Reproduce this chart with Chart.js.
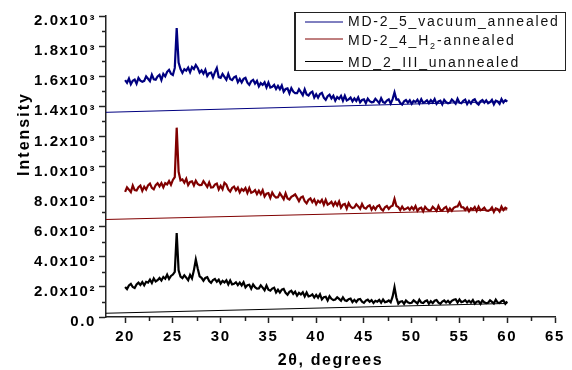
<!DOCTYPE html>
<html><head><meta charset="utf-8">
<script src="https://cdn.jsdelivr.net/npm/chart.js@4.4.1/dist/chart.umd.min.js"></script>
<style>html,body{margin:0;padding:0;background:#fff;overflow:hidden}#wrap{width:572px;height:370px;position:relative}</style>
</head><body><div id="wrap"><canvas id="c" width="572" height="370"></canvas></div>
<script>
// 2-theta sampling grid: 20.0 .. 60.0 in 0.2 degree steps
const thetaStart = 20, thetaStep = 0.2;

const vacuumAnnealed = [
1574,1556,1585,1547,1570,1578,1550,1588,1570,1563,
1569,1599,1583,1567,1610,1580,1577,1598,1609,1574,
1616,1599,1629,1642,1616,1608,1655,1920,1690,1648,
1622,1647,1637,1657,1626,1661,1648,1675,1655,1624,
1639,1617,1643,1601,1620,1624,1592,1627,1655,1594,
1589,1615,1596,1576,1615,1581,1574,1592,1599,1560,
1581,1558,1582,1589,1557,1543,1567,1576,1551,1569,
1532,1554,1542,1559,1525,1558,1525,1530,1542,1515,
1536,1514,1539,1497,1515,1519,1486,1521,1498,1487,
1487,1513,1494,1474,1513,1479,1472,1490,1497,1458,
1480,1457,1481,1489,1457,1443,1467,1477,1452,1470,
1438,1462,1450,1469,1437,1470,1439,1446,1458,1433,
1453,1436,1459,1426,1442,1446,1421,1451,1434,1427,
1429,1450,1436,1421,1454,1428,1423,1438,1446,1418,
1448,1492,1445,1446,1422,1412,1433,1442,1424,1440,
1416,1436,1428,1444,1419,1447,1423,1429,1440,1421,
1441,1425,1448,1416,1432,1437,1413,1443,1427,1420,
1423,1445,1432,1417,1450,1424,1420,1436,1444,1414,
1435,1418,1439,1446,1422,1412,1433,1442,1424,1440,
1420,1427,1443,1413,1437,1432,1416,1448,1425,1441,
1432];

const h2Annealed = [
831,861,846,830,873,843,840,862,873,838,
866,847,875,886,858,848,876,889,868,890,
862,889,881,903,878,911,930,1258,965,908,
914,892,918,876,897,901,874,906,884,876,
877,903,884,864,894,860,862,880,887,848,
872,849,892,880,848,834,858,867,842,860,
828,851,839,857,824,857,825,831,843,817,
839,817,843,801,820,824,792,827,805,794,
796,822,803,783,822,788,781,799,806,815,
793,770,794,801,769,755,779,788,763,781,
749,772,760,778,746,779,747,754,766,740,
763,742,768,727,747,751,720,756,734,724,
728,749,735,719,751,726,720,736,743,713,
733,715,736,743,718,707,729,737,718,734,
740,785,738,731,711,734,714,719,728,713,
730,714,737,705,721,726,702,732,716,709,
711,733,720,705,738,712,708,724,732,702,
722,705,726,733,735,760,730,729,711,727,
702,722,714,730,705,733,709,715,726,707,
705,712,728,698,722,717,701,733,710,726,
718];

const unannealed = [
200,186,210,220,199,192,216,228,213,232,
211,234,229,248,226,257,236,245,259,243,
266,254,281,253,273,282,300,558,310,268,
258,277,262,245,280,256,310,382,322,270,
260,241,260,265,239,227,246,253,234,248,
222,240,230,244,217,243,217,221,231,212,
228,210,231,197,211,214,188,216,198,189,
190,210,195,178,209,181,175,189,195,163,
181,162,181,186,160,148,167,174,154,168,
142,160,150,164,137,163,137,141,150,129,
147,129,151,117,132,135,110,138,121,112,
116,131,120,108,131,111,107,118,122,99,
114,100,116,120,102,94,109,115,101,112,
93,108,102,114,95,116,98,102,110,98,
135,198,128,89,102,105,87,110,98,92,
95,111,101,90,115,96,93,105,110,88,
105,92,108,113,95,88,103,110,96,108,
93,108,115,118,96,117,99,103,112,97,
108,96,113,89,102,105,87,110,98,92,
95,111,101,90,115,96,93,105,110,88,
103];

// straight background lines (x at ends, y at ends)
const baselineX = [18, 60];
const vacuumBaseline = [1360, 1432];
const h2Baseline = [648, 712];
const unannealedBaseline = [25, 90];

const seriesLabels = ['MD-2_5_vacuum_annealed', 'MD-2_4_H\u2082-annealed', 'MD_2_III_unannealed'];
const seriesColors = ['#000080', '#800000', '#000000'];

const xMinorTicks = [22.5, 27.5, 32.5, 37.5, 42.5, 47.5, 52.5, 57.5, 62.5];
const yMinorTicks = [100, 300, 500, 700, 900, 1100, 1300, 1500, 1700, 1900];

function toPoints(vals) { return vals.map((v, i) => ({x: +(thetaStart + i * thetaStep).toFixed(1), y: v})); }
function linePoints(ys) { return ys.map((v, i) => ({x: baselineX[i], y: v})); }
function yLabel(v) {
  if (v === 0) return '0.0';
  if (v < 1000) return (v / 100).toFixed(1) + 'x10\u00B2';
  return (v / 1000).toFixed(1) + 'x10\u00B3';
}

const FAM = '"Liberation Sans", Arial, sans-serif';

const spacingPlugin = {
  id: 'spacing',
  beforeLayout(c) { c.ctx.letterSpacing = '1.6px'; },
  beforeDraw(c) { c.ctx.letterSpacing = '1.6px'; }
};

const decorPlugin = {
  id: 'decor',
  afterDraw(c) {
    const ctx = c.ctx, a = c.chartArea, xs = c.scales.x, ys = c.scales.y;
    ctx.save();
    // minor ticks
    ctx.strokeStyle = '#222'; ctx.lineWidth = 1.5;
    ctx.beginPath();
    yMinorTicks.forEach(v => { const p = Math.round(ys.getPixelForValue(v)) + 0.5; ctx.moveTo(a.left, p); ctx.lineTo(a.left - 4, p); });
    xMinorTicks.forEach(v => { const p = Math.round(xs.getPixelForValue(v)) + 0.5; ctx.moveTo(p, a.bottom); ctx.lineTo(p, a.bottom + 4); });
    ctx.stroke();
    // y title
    ctx.letterSpacing = '2px';
    ctx.fillStyle = '#000';
    ctx.font = 'bold 16px ' + FAM;
    ctx.translate(28.5, 134);
    ctx.rotate(-Math.PI / 2);
    ctx.textAlign = 'center'; ctx.textBaseline = 'alphabetic';
    ctx.fillText('Intensity', 0, 0);
    ctx.restore();

    // legend box
    ctx.save();
    ctx.strokeStyle = '#222'; ctx.lineWidth = 1;
    ctx.strokeRect(294.5, 12.5, 271, 58);
    ctx.beginPath(); ctx.moveTo(295, 70.5); ctx.lineTo(566, 70.5); ctx.moveTo(295.5, 13); ctx.lineTo(295.5, 71); ctx.stroke();
    const lineY = [22, 39, 61.5];
    const textY = [26, 44.5, 66.5];
    ctx.letterSpacing = '1.8px';
    ctx.textAlign = 'left'; ctx.textBaseline = 'alphabetic';
    seriesLabels.forEach((lab, i) => {
      ctx.strokeStyle = seriesColors[i]; ctx.lineWidth = 1;
      ctx.beginPath(); ctx.moveTo(305, lineY[i]); ctx.lineTo(343, lineY[i]); ctx.stroke();
      ctx.fillStyle = '#111';
      const parts = lab.split('\u2082');
      let x = 348;
      ctx.font = '14px ' + FAM;
      ctx.fillText(parts[0], x, textY[i]);
      if (parts.length > 1) {
        x += ctx.measureText(parts[0]).width;
        ctx.font = '9px ' + FAM;
        ctx.letterSpacing = '1px';
        ctx.fillText('2', x, textY[i] + 4);
        x += ctx.measureText('2').width + 1;
        ctx.font = '14px ' + FAM;
        ctx.letterSpacing = '1.8px';
        ctx.fillText(parts[1], x, textY[i]);
      }
    });
    ctx.restore();
  }
};

const commonLine = {pointRadius: 0, pointHoverRadius: 0, tension: 0, fill: false};

new Chart(document.getElementById('c'), {
  type: 'line',
  data: {
    datasets: [
      {label: seriesLabels[0], data: toPoints(vacuumAnnealed), borderColor: seriesColors[0], borderWidth: 2.2, ...commonLine},
      {label: seriesLabels[1], data: toPoints(h2Annealed), borderColor: seriesColors[1], borderWidth: 2.2, ...commonLine},
      {label: seriesLabels[2], data: toPoints(unannealed), borderColor: seriesColors[2], borderWidth: 2.2, ...commonLine},
      {label: 'baseline 1', data: linePoints(vacuumBaseline), borderColor: seriesColors[0], borderWidth: 1, ...commonLine},
      {label: 'baseline 2', data: linePoints(h2Baseline), borderColor: seriesColors[1], borderWidth: 1, ...commonLine},
      {label: 'baseline 3', data: linePoints(unannealedBaseline), borderColor: seriesColors[2], borderWidth: 1, ...commonLine}
    ]
  },
  options: {
    responsive: false,
    animation: false,
    devicePixelRatio: 1,
    layout: {padding: {left: 0, top: 16, right: 17, bottom: 0}},
    plugins: {legend: {display: false}, tooltip: {enabled: false}},
    scales: {
      x: {
        type: 'linear', min: 18, max: 65,
        afterFit(s) { s.height = 53; },
        border: {display: true, color: '#222', width: 1.5},
        grid: {drawOnChartArea: false, drawTicks: true, tickLength: 6, tickColor: '#222', tickWidth: 1.5},
        ticks: {stepSize: 5, includeBounds: false, autoSkip: false, maxRotation: 0, padding: 5, color: '#000',
                font: {family: FAM, size: 15, weight: 'bold'}},
        title: {display: true, text: '2\u03B8, degrees', color: '#000', padding: {top: 0, bottom: 0},
                font: {family: FAM, size: 16, weight: 'bold'}}
      },
      y: {
        type: 'linear', min: 0, max: 2000,
        afterFit(s) { s.width = 106; },
        border: {display: true, color: '#222', width: 1.5},
        grid: {drawOnChartArea: false, drawTicks: true, tickLength: 7, tickColor: '#222', tickWidth: 1.5},
        ticks: {stepSize: 200, includeBounds: false, autoSkip: false, padding: 3, color: '#000',
                labelOffset: (ctx) => (ctx.tick && ctx.tick.value === 0 ? 0 : 5),
                font: {family: FAM, size: 15, weight: 'bold'},
                callback: (v) => yLabel(v)}
      }
    }
  },
  plugins: [spacingPlugin, decorPlugin]
});
</script></body></html>
